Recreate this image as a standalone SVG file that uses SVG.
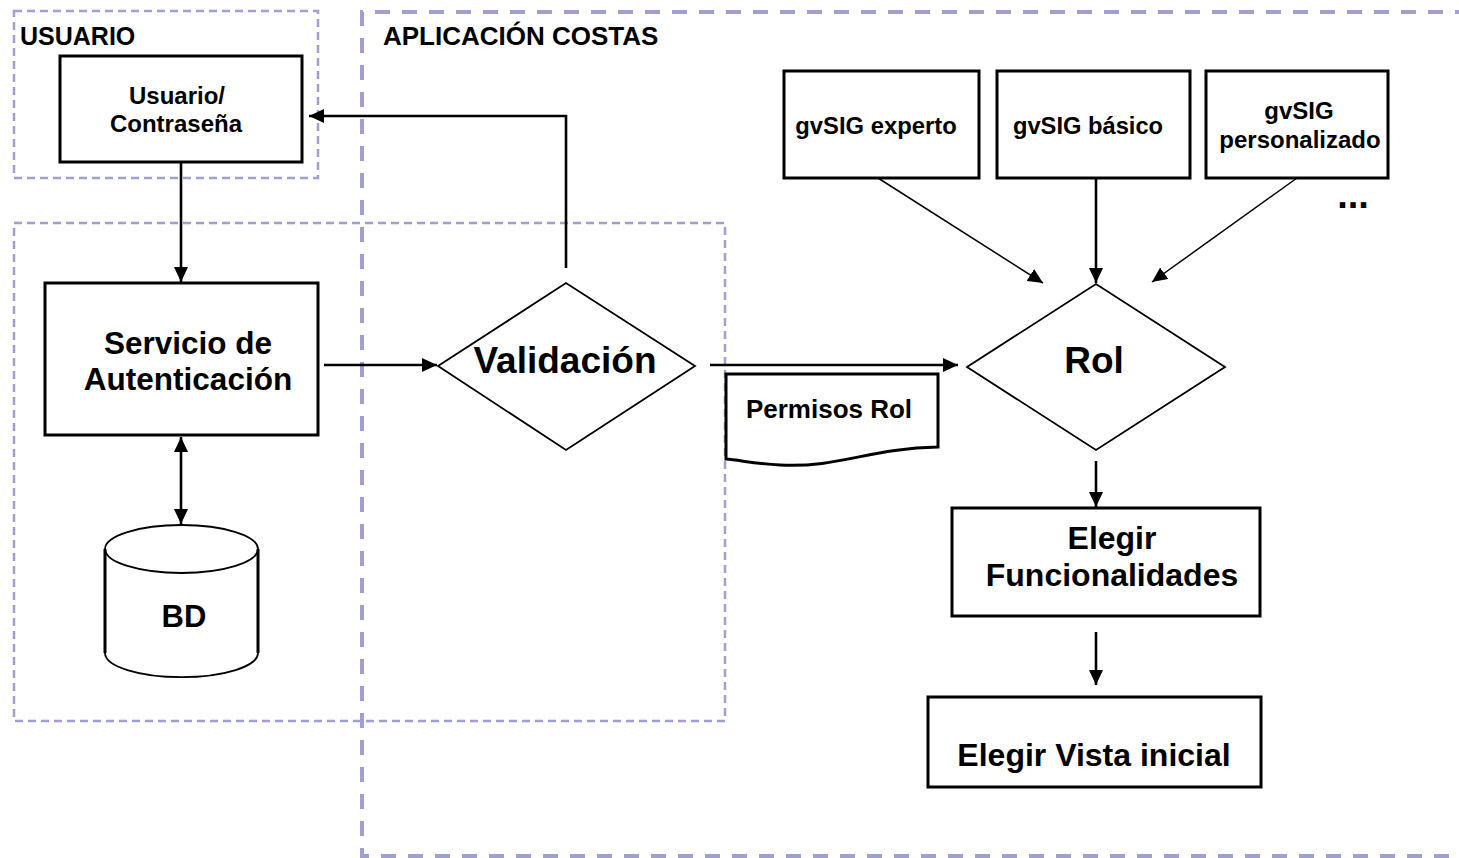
<svg xmlns="http://www.w3.org/2000/svg" width="1459" height="858" viewBox="0 0 1459 858">
<style>
text{font-family:"Liberation Sans",Arial,sans-serif;font-weight:bold;fill:#000;text-anchor:middle}
.box{fill:#fff;stroke:#000;stroke-width:3}
.thin{fill:#fff;stroke:#000;stroke-width:1.8}
.zone{fill:none;stroke:#9f9fd0}
.c{fill:none;stroke:#000;stroke-width:2.6}
.c1{fill:none;stroke:#000;stroke-width:1.5}
</style>
<defs>
<marker id="ah" viewBox="0 0 15 14" refX="15" refY="7" markerWidth="15" markerHeight="14" markerUnits="userSpaceOnUse" orient="auto-start-reverse">
<path d="M0,0 L15,7 L0,14 z" fill="#000"/>
</marker>
</defs>
<g id="zones">
<rect class="zone" x="14" y="11" width="304" height="167" stroke-width="2.5" stroke-dasharray="8 5"/>
<rect class="zone" x="14" y="223" width="711" height="498" stroke-width="2.5" stroke-dasharray="8 5"/>
<path class="zone" d="M1470,12 H362 V856 H1470" stroke-width="4" stroke-dasharray="15 12"/>
<text x="20" y="45" font-size="25" style="text-anchor:start">USUARIO</text>
<text x="383" y="45" font-size="26" style="text-anchor:start">APLICACIÓN COSTAS</text>
</g>
<g id="connectors">
<path class="c" d="M566,268 V116 H309" marker-end="url(#ah)"/>
<path class="c" d="M181,162 V282" marker-end="url(#ah)"/>
<path class="c" d="M324,365 H437" marker-end="url(#ah)"/>
<path class="c" d="M181,437 V524" marker-start="url(#ah)" marker-end="url(#ah)"/>
<path class="c" d="M710,365 H958" marker-end="url(#ah)"/>
<path class="c1" d="M878,178 L1043,283" marker-end="url(#ah)"/>
<path class="c" d="M1096,178 V283" marker-end="url(#ah)"/>
<path class="c1" d="M1297,178 L1152,282" marker-end="url(#ah)"/>
<path class="c" d="M1096,461 V507" marker-end="url(#ah)"/>
<path class="c" d="M1096,632 V685" marker-end="url(#ah)"/>
</g>
<g id="usuario">
<rect class="box" x="60" y="56" width="242" height="106"/>
<text x="177" y="104" font-size="24">Usuario/</text>
<text x="176" y="132" font-size="24">Contraseña</text>
</g>
<g id="servicio">
<rect class="box" x="45" y="283" width="273" height="152"/>
<text x="188" y="354" font-size="31.5">Servicio de</text>
<text x="188" y="390" font-size="31.5">Autenticación</text>
</g>
<g id="bd">
<path class="thin" d="M105,549 V653 A76,24 0 0 0 258,653 V549" stroke-width="2.5"/>
<ellipse class="thin" cx="181.5" cy="549" rx="76.5" ry="24"/>
<path d="M105,549 V653 M258,549 V653" stroke="#000" stroke-width="3"/>
<text x="184" y="627" font-size="31">BD</text>
</g>
<g id="validacion">
<polygon class="thin" points="438,366 566,283 695,366 566,450"/>
<text x="565" y="373" font-size="37">Validación</text>
</g>
<g id="permisos">
<path class="box" d="M726,374 H938 V447 C870,448 840,468 780,465 C755,464 740,460 726,459 Z" stroke-width="2.5"/>
<text x="829" y="418" font-size="26">Permisos Rol</text>
</g>
<g id="rol">
<polygon class="thin" points="967,367 1096,284 1225,367 1096,450"/>
<text x="1094" y="373" font-size="37">Rol</text>
</g>
<g id="experto">
<rect class="box" x="784" y="71" width="195" height="107"/>
<text x="876" y="134" font-size="23.8">gvSIG experto</text>
</g>
<g id="basico">
<rect class="box" x="997" y="71" width="193" height="107"/>
<text x="1088" y="134" font-size="23.7">gvSIG básico</text>
</g>
<g id="personalizado">
<rect class="box" x="1206" y="71" width="182" height="107"/>
<text x="1299" y="119" font-size="24">gvSIG</text>
<text x="1300" y="148" font-size="24">personalizado</text>
</g>
<g id="dots">
<text x="1353" y="208" font-size="38">...</text>
</g>
<g id="funcionalidades">
<rect class="box" x="952" y="508" width="308" height="108"/>
<text x="1112" y="549" font-size="32">Elegir</text>
<text x="1112" y="586" font-size="32">Funcionalidades</text>
</g>
<g id="vista">
<rect class="box" x="928" y="697" width="333" height="90"/>
<text x="1094" y="766" font-size="32">Elegir Vista inicial</text>
</g>
</svg>
